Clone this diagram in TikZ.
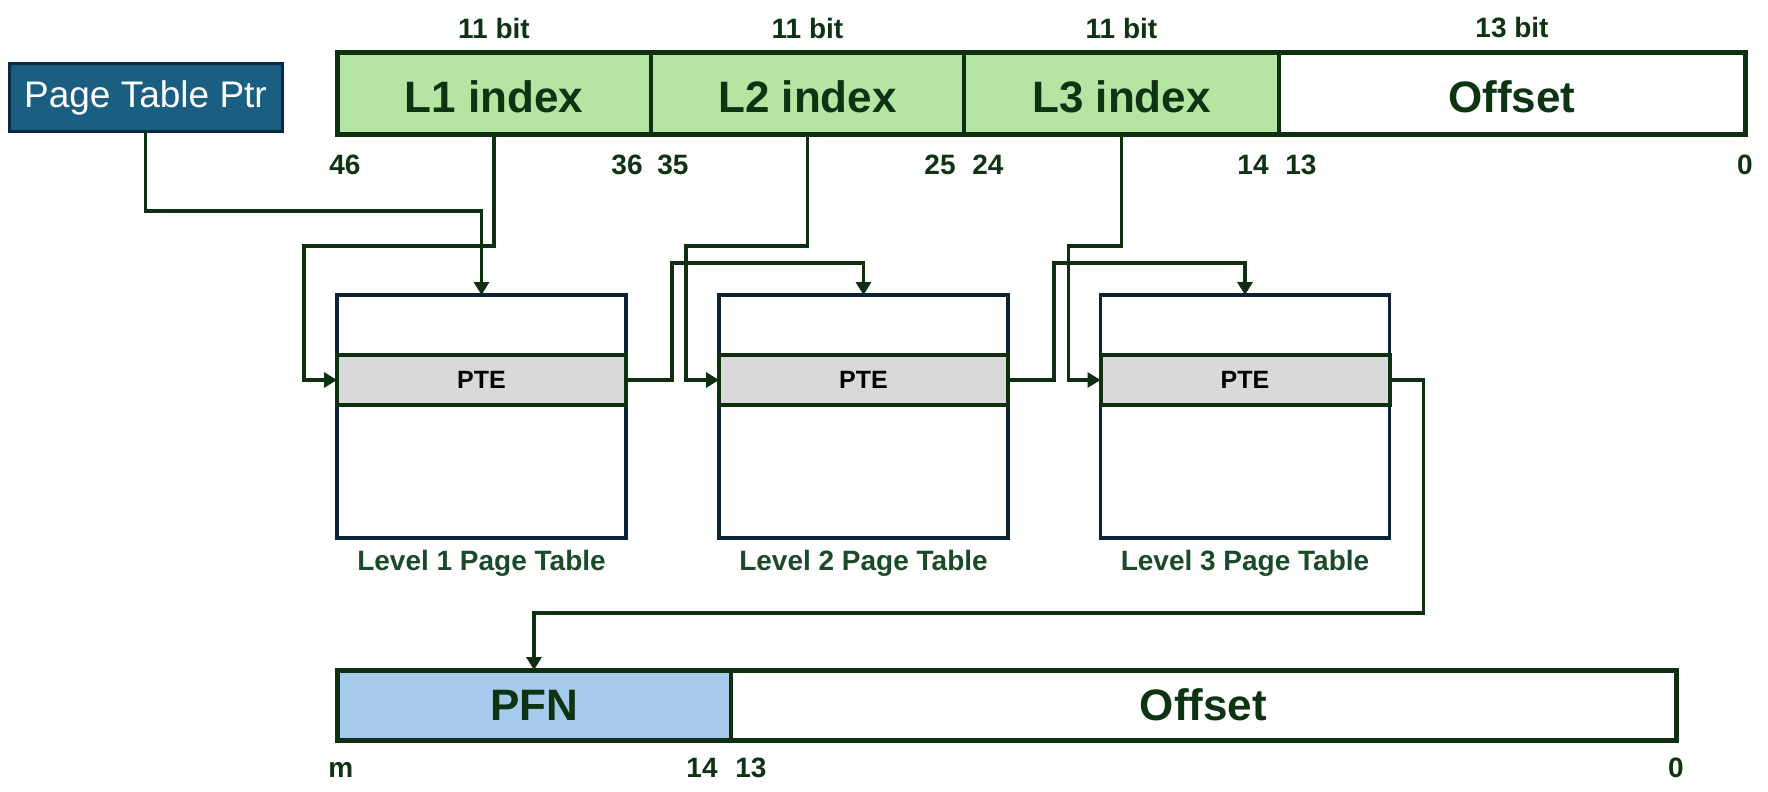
\documentclass[tikz,border=0pt]{standalone}
\usepackage{fontspec}
\setmainfont{Liberation Sans}
\usetikzlibrary{arrows.meta}
\definecolor{lnc}{HTML}{0E2F10}
\definecolor{txtc}{HTML}{0D3312}
\definecolor{lvlc}{HTML}{1B4A28}
\definecolor{grn}{HTML}{B4E5A2}
\definecolor{blu}{HTML}{A6CAEC}
\definecolor{gry}{HTML}{D9D9D9}
\definecolor{ptrc}{HTML}{1A5E82}
\definecolor{ptrb}{HTML}{0B2A3F}
\definecolor{navy}{HTML}{0D2236}
\tikzset{
  seg/.style={draw=lnc, line width=2pt, outer sep=0pt, inner sep=0pt, minimum height=41pt,
    font=\bfseries\fontsize{22}{24}\selectfont, text=txtc},
  topseg/.style={seg, text height=19pt, text depth=0pt},
  outline/.style={draw=lnc, line width=2.5pt},
  bitlbl/.style={font=\bfseries\fontsize{14}{16}\selectfont, text=txtc, inner sep=0pt},
  numlbl/.style={font=\bfseries\fontsize{14}{16}\selectfont, text=txtc, inner sep=0pt},
  tablebox/.style={draw=navy, line width=1.8pt, fill=white, outer sep=0pt, inner sep=0pt,
    minimum width=144.5pt, minimum height=121.5pt},
  pteband/.style={draw=lnc, line width=2pt, fill=gry, outer sep=0pt, inner sep=0pt,
    minimum width=144.5pt, minimum height=25pt, font=\bfseries\fontsize{12.5}{14}\selectfont, text=black},
  lvllbl/.style={font=\bfseries\fontsize{14}{16}\selectfont, text=lvlc, inner sep=0pt},
  conn/.style={draw=lnc, line width=1.6pt, -{Triangle[length=6.5pt,width=7.5pt]}},
}
\begin{document}
\begin{tikzpicture}[x=0.5pt,y=-0.5pt]
\path[use as bounding box] (0,0) rectangle (1768,792);

% Page table pointer
\node[draw=ptrb, line width=1.5pt, fill=ptrc, outer sep=0pt, minimum width=136.5pt, minimum height=34pt,
  text=white, font=\fontsize{18.5}{20}\selectfont] (ptr) at (145.5,98) {Page Table Ptr};

% Virtual address bar
\node[topseg, fill=grn, minimum width=157pt] (L1) at (494,94) {L1 index};
\node[topseg, fill=grn, minimum width=156.5pt] (L2) at (807.5,94) {L2 index};
\node[topseg, fill=grn, minimum width=157.5pt] (L3) at (1121.5,94) {L3 index};
\node[topseg, fill=white, minimum width=233pt] (off) at (1512,94) {Offset};
\draw[outline] (L1.north west) rectangle (off.south east);

\node[bitlbl] (b1) at (494,28) {11 bit};
\node[bitlbl] (b2) at (807.5,28) {11 bit};
\node[bitlbl] (b3) at (1121.5,28) {11 bit};
\node[bitlbl] (b4) at (1512,28) {13 bit};

\node[numlbl, anchor=west] (n46) at (329,165) {46};
\node[numlbl, anchor=east] (n36) at (643,165) {36};
\node[numlbl, anchor=west] (n35) at (657,165) {35};
\node[numlbl, anchor=east] (n25) at (956,165) {25};
\node[numlbl, anchor=west] (n24) at (972,165) {24};
\node[numlbl, anchor=east] (n14) at (1269,165) {14};
\node[numlbl, anchor=west] (n13) at (1285,165) {13};
\node[numlbl] (n0) at (1745,165) {0};

% Page tables
\node[tablebox] (t1) at (481.5,416.5) {};
\node[tablebox] (t2) at (863.5,416.5) {};
\node[tablebox] (t3) at (1245,416.5) {};
\node[pteband] (p1) at (481.5,380) {PTE};
\node[pteband] (p2) at (863.5,380) {PTE};
\node[pteband] (p3) at (1245,380) {PTE};
\node[lvllbl] (l1) at (481.5,563) {Level 1 Page Table};
\node[lvllbl] (l2) at (863.5,563) {Level 2 Page Table};
\node[lvllbl] (l3) at (1245,563) {Level 3 Page Table};

% Physical address bar
\node[seg, fill=blu, minimum width=197pt, minimum height=35pt] (pfn) at (534,705) {PFN};
\node[seg, fill=white, minimum width=472.5pt, minimum height=35pt] (poff) at (1203.5,705) {Offset};
\draw[outline] (pfn.north west) rectangle (poff.south east);

\node[numlbl, anchor=base west] (m) at (328,777) {m};
\node[numlbl, anchor=base east] (m14) at (718,777) {14};
\node[numlbl, anchor=base west] (m13) at (735,777) {13};
\node[numlbl, anchor=base] (m0) at (1676,777) {0};

% Connectors
\draw[conn] (ptr.south) -- ++(0,79) -| (t1.north);
\draw[conn] (L1.south) -- ++(0,111) -| ([xshift=-16.5pt]p1.west) -- (p1.west);
\draw[conn] (p1.east) -- ++(46,0) -- ++(0,-117) -| (t2.north);
\draw[conn] (L2.south) -- ++(0,111) -| ([xshift=-16.5pt]p2.west) -- (p2.west);
\draw[conn] (p2.east) -- ++(46,0) -- ++(0,-117) -| (t3.north);
\draw[conn] (L3.south) -- ++(0,111) -| ([xshift=-16pt]p3.west) -- (p3.west);
\draw[conn] (p3.east) -- ++(34,0) -- ++(0,233) -| (pfn.north);
\end{tikzpicture}
\end{document}
